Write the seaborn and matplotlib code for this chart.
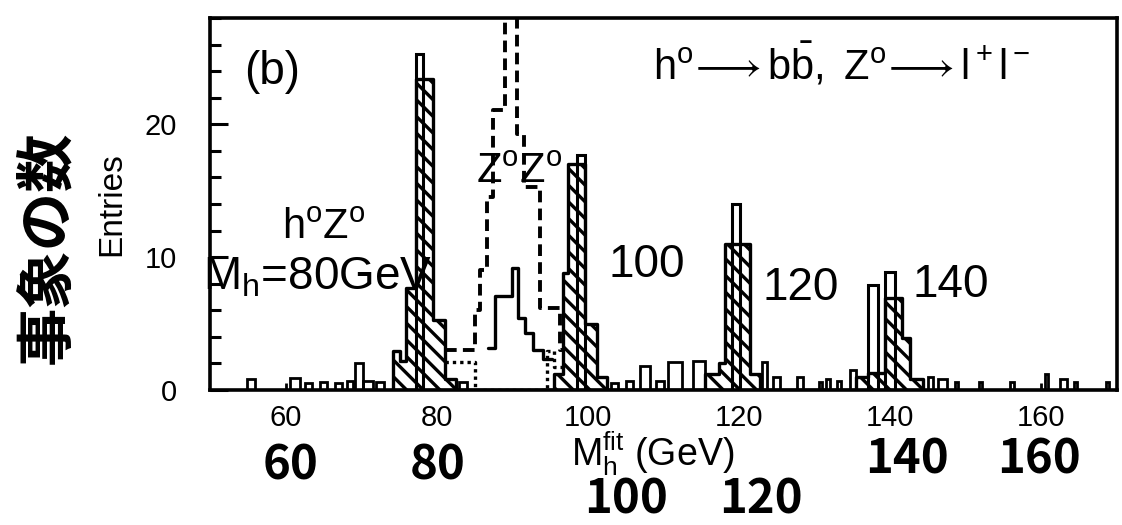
import numpy as np
import matplotlib
matplotlib.use("Agg")
import matplotlib.pyplot as plt
import seaborn as sns
from matplotlib.ticker import MultipleLocator

# ---- data (bin edges in GeV, entries) ----
# hatched signal histograms (M_h = 80, 100, 120, 140 GeV)
sig_edges = [74.2, 75.1, 75.9, 77.3, 79.5, 81.1, 82.5,
             95.5, 96.7, 97.4, 99.6, 101.2, 102.5,
             115.5, 117.3, 118.1, 121.4, 122.8,
             135.5, 137.1, 139.3, 141.5, 142.6, 144.3]
sig_counts = [2.9, 2.2, 7.7, 23.4, 5.3, 0.8, 0,
              1.2, 8.8, 17.0, 5.0, 1.0, 0,
              1.2, 2.0, 11.0, 1.2, 0,
              1.0, 1.3, 6.9, 3.9, 0.8]

# narrow open bars sitting on top of the signal peaks
cap_edges = [77.3, 78.2, 98.5, 99.6, 119.0, 120.1, 137.1, 138.4, 139.3, 140.6]
cap_counts = [25.3, 0, 17.7, 0, 14.0, 0, 7.9, 0, 8.9]

# Z0Z0 background, dashed
zz_edges = [81.1, 85.1, 85.7, 86.6, 87.5, 89.0, 90.6, 91.5, 93.7, 96.3, 97.0]
zz_counts = [3.0, 6.0, 9.0, 14.5, 21.1, 33.0, 19.3, 15.3, 6.2, 3.0]

# Z0Z0 after cuts, solid
zzc_edges = [86.8, 87.7, 89.9, 90.8, 91.7, 92.7, 94.1, 95.2]
zzc_counts = [3.2, 7.1, 9.2, 5.4, 4.3, 3.0, 2.3]

# dotted component
dot_edges = [81.1, 85.1, 94.6, 95.5, 96.7]
dot_counts = [2.1, 0, 2.9, 1.7]

# small leftover entries along the bottom
bkg_lo = [54.9, 60.6, 62.5, 64.5, 66.5, 68.1, 69.2, 70.2, 72.0, 83.0,
          103.0, 105.0, 106.9, 109.0, 110.6, 113.9, 123.0, 124.5, 127.7,
          130.5, 131.5, 133.0, 134.7, 145.0, 146.3, 148.5, 151.7, 155.9,
          160.5, 162.5, 164.3, 168.5]
bkg_hi = [56.0, 61.9, 63.5, 65.5, 67.5, 68.9, 70.2, 71.5, 73.0, 84.0,
          104.0, 106.0, 108.2, 110.0, 112.5, 115.5, 123.7, 125.4, 128.5,
          131.0, 132.0, 133.5, 135.5, 145.6, 147.5, 149.0, 152.1, 156.3,
          160.9, 163.4, 164.7, 168.9]
bkg_counts = [0.8, 0.9, 0.5, 0.6, 0.5, 0.7, 2.0, 0.7, 0.6, 0.6,
              0.5, 0.7, 1.8, 0.7, 2.1, 2.2, 2.1, 1.0, 1.0,
              0.6, 0.8, 0.7, 1.5, 1.0, 0.8, 0.6, 0.6, 0.6,
              1.2, 0.8, 0.6, 0.6]

peak_labels = ["100", "120", "140"]
peak_pos = [(107.8, 9.4), (128.2, 7.7), (148.0, 7.9)]
hand_ticks = ["60", "80", "100", "120", "140", "160"]
hand_pos = [(291, 465), (438, 465), (626, 499), (761, 499), (907, 460), (1039, 460)]


def hist(ax, edges, counts, **kw):
    edges = [float(e) for e in edges]
    mids = [(a + b) / 2 for a, b in zip(edges[:-1], edges[1:])]
    sns.histplot(x=mids, weights=counts, bins=edges, ax=ax, stat="count", **kw)


sns.set_theme(style="white")
plt.rcParams['font.family'] = ['Liberation Sans', 'DejaVu Sans']
plt.rcParams['mathtext.fontset'] = 'custom'
plt.rcParams['mathtext.rm'] = 'Liberation Sans'
plt.rcParams['mathtext.it'] = 'Liberation Sans:italic'
plt.rcParams['hatch.linewidth'] = 2.4
plt.rcParams['axes.linewidth'] = 2.4
for key in ['text.color', 'axes.labelcolor', 'xtick.color', 'ytick.color', 'axes.edgecolor']:
    plt.rcParams[key] = 'black'

fig = plt.figure(figsize=(11.22, 5.25), dpi=100)
ax = fig.add_axes([0.1872, 0.2571, 0.8084, 0.7086])

hist(ax, sig_edges, sig_counts, element="step", fill=True, facecolor="white",
     edgecolor="black", hatch="\\\\", linewidth=2.4, zorder=2)
hist(ax, cap_edges, cap_counts, element="bars", fill=False, color="black",
     linewidth=2.2, zorder=3)
hist(ax, zz_edges, zz_counts, element="step", fill=False, color="black",
     linewidth=2.8, linestyle=(0, (3, 1.6)), zorder=3)
hist(ax, zzc_edges, zzc_counts, element="step", fill=False, color="black",
     linewidth=2.4, zorder=3)
hist(ax, dot_edges, dot_counts, element="step", fill=False, color="black",
     linewidth=2.4, linestyle=(0, (1, 1.2)), zorder=3)

bkg_edges = sorted(set(bkg_lo + bkg_hi))
bkg_mid = [(a + b) / 2 for a, b in zip(bkg_lo, bkg_hi)]
sns.histplot(x=bkg_mid, weights=bkg_counts, bins=bkg_edges, ax=ax,
             element="bars", fill=False, color="black", linewidth=2.0, zorder=3)

ax.set_xlim(50, 170)
ax.set_ylim(0, 28)
ax.set_xticks([60, 80, 100, 120, 140, 160])
ax.set_yticks([0, 10, 20])
ax.yaxis.set_minor_locator(MultipleLocator(2))
ax.tick_params(axis='y', which='major', direction='in', length=13, width=2.2,
               labelsize=21, pad=24, left=True)
ax.tick_params(axis='y', which='minor', direction='in', length=8, width=2.2, left=True)
ax.tick_params(axis='x', which='major', direction='in', length=5, width=2.0,
               labelsize=21, pad=10, bottom=True)
for s in ax.spines.values():
    s.set_color('black')
    s.set_linewidth(2.6)

ax.set_xlabel("")
ax.set_ylabel("Entries", fontsize=24, labelpad=12)

# labels inside the frame
ax.text(58.2, 23.9, "(b)", fontsize=33, ha='center', va='center')
ax.text(133.6, 24.5,
        r'$\mathregular{h^o\!\longrightarrow b\bar{b},\ Z^o\!\longrightarrow l^+l^-}$',
        fontsize=30, ha='center', va='center')
ax.text(90.9, 16.4, r'$\mathregular{Z^oZ^o}$', fontsize=30, ha='center', va='center', zorder=5)
ax.text(65.1, 12.2, r'$\mathregular{h^oZ^o}$', fontsize=30, ha='center', va='center', zorder=5)
ax.text(49.1, 8.5, r'$\mathregular{M_h}$=80GeV', fontsize=33, ha='left', va='center',
        zorder=5, clip_on=False)
for lab, (px, py) in zip(peak_labels, peak_pos):
    ax.text(px, py, lab, fontsize=33, ha='center', va='center')

# axis title under the tick labels
fig.text(653 / 1122, 1 - 454 / 525, r'$\mathregular{M_h^{fit}}$ (GeV)', fontsize=27,
         ha='center', va='center')

# handwritten notes on the scan
hand = ['Noto Sans CJK JP', 'DejaVu Sans']
fig.text(47 / 1122, 1 - 247 / 525, "事象の数", fontsize=42, fontweight='bold',
         family=hand, rotation=90, ha='center', va='center')
for lab, (px, py) in zip(hand_ticks, hand_pos):
    fig.text(px / 1122, 1 - py / 525, lab, fontsize=34, fontweight='bold',
             family=hand, ha='center', va='center')

fig.savefig("out.png", dpi=100)
